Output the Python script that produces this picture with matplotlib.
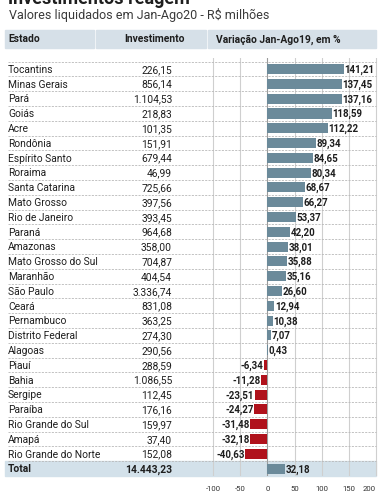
import matplotlib
matplotlib.use('Agg')
import matplotlib.pyplot as plt
import matplotlib.transforms as mtransforms
from matplotlib.patches import Rectangle
from matplotlib.lines import Line2D

plt.rcParams['font.family'] = ['Roboto', 'DejaVu Sans']

estados = ['Tocantins', 'Minas Gerais', 'Pará', 'Goiás', 'Acre', 'Rondônia',
           'Espírito Santo', 'Roraima', 'Santa Catarina', 'Mato Grosso',
           'Rio de Janeiro', 'Paraná', 'Amazonas', 'Mato Grosso do Sul',
           'Maranhão', 'São Paulo', 'Ceará', 'Pernambuco', 'Distrito Federal',
           'Alagoas', 'Piauí', 'Bahia', 'Sergipe', 'Paraíba',
           'Rio Grande do Sul', 'Amapá', 'Rio Grande do Norte']
investimento = [226.15, 856.14, 1104.53, 218.83, 101.35, 151.91, 679.44, 46.99,
                725.66, 397.56, 393.45, 964.68, 358.00, 704.87, 404.54, 3336.74,
                831.08, 363.25, 274.30, 290.56, 288.59, 1086.55, 112.45, 176.16,
                159.97, 37.40, 152.08]
variacao = [141.21, 137.45, 137.16, 118.59, 112.22, 89.34, 84.65, 80.34, 68.67,
            66.27, 53.37, 42.20, 38.01, 35.88, 35.16, 26.60, 12.94, 10.38, 7.07,
            0.43, -6.34, -11.28, -23.51, -24.27, -31.48, -32.18, -40.63]
total_invest = 14443.23
total_var = 32.18
xticks = [-100, -50, 0, 50, 100, 150, 200]

W, H = 384, 496
AZUL = '#6b8a9a'
VERM = '#b0121c'
TXT = '#1e1e1e'


def br(v):
    s = f'{v:,.2f}'
    return s.replace(',', 'X').replace('.', ',').replace('X', '.')


def fx(x):
    return x / W


def fy(y):
    return 1 - y / H


fig = plt.figure(figsize=(W / 100, H / 100), dpi=100)
fig.patch.set_facecolor('white')

# titulo (cortado no topo) e subtitulo
fig.text(fx(8), fy(3.5), 'Investimentos reagem', fontsize=13, fontweight='bold',
         color=TXT, va='baseline', ha='left')
fig.text(fx(9), fy(15.5), 'Valores liquidados em Jan-Ago20 - R$ milhões',
         fontsize=9, color='#3a3a3a', va='center', ha='left')

# cabecalho
for x0, x1 in [(5, 94), (96, 206), (208, 376)]:
    fig.patches.append(Rectangle((fx(x0), fy(48)), fx(x1) - fx(x0), fy(30) - fy(48),
                                 transform=fig.transFigure, color='#d6e0e8', zorder=0))
fig.text(fx(8), fy(39.5), 'Estado', fontsize=7.4, fontweight='bold', color=TXT, va='center')
fig.text(fx(185), fy(39.5), 'Investimento', fontsize=7.4, fontweight='bold', color=TXT,
         va='center', ha='right')
fig.text(fx(216), fy(39.5), 'Variação Jan-Ago19, em %', fontsize=7.4, fontweight='bold',
         color=TXT, va='center')

# area do grafico
ax = fig.add_axes([fx(205), fy(476), fx(378) - fx(205), fy(58) - fy(476)])
ax.set_xlim(-114.8, 203.7)
n = len(estados)
ax.set_ylim(n + 0.5, -0.75)
ax.set_facecolor('none')
for s in ax.spines.values():
    s.set_visible(False)
ax.tick_params(left=False, bottom=False, labelleft=False, labelsize=5.6,
               labelcolor='#333333', pad=4)
ax.set_xticks(xticks)
ax.set_xticklabels([str(t) for t in xticks])
ax.get_xticklabels()[-1].set_horizontalalignment('right')
ax.set_yticks([])
for t in xticks:
    ax.axvline(t, color='#9a9a9a' if t == 0 else '#cfcfcf', lw=0.8, zorder=1)

tr = mtransforms.blended_transform_factory(fig.transFigure, ax.transData)

# faixa do total
ax.add_patch(Rectangle((fx(5), n - 0.52), fx(376) - fx(5), 1.05, transform=tr,
                       color='#d3e1ea', zorder=0.5, clip_on=False))

ys = list(range(n))
cores = [AZUL if v >= 0 else VERM for v in variacao]
ax.barh(ys, variacao, height=0.68, color=cores, zorder=2)
ax.barh([n], [total_var], height=0.68, color=AZUL, zorder=2)

for y, v in zip(ys + [n], variacao + [total_var]):
    if v >= 0:
        ax.text(v + 0.8, y + 0.05, br(v), fontsize=7, fontweight='bold', color=TXT,
                va='center', ha='left', zorder=3)
    else:
        ax.text(v - 0.8, y + 0.05, br(v), fontsize=7, fontweight='bold', color=TXT,
                va='center', ha='right', zorder=3)

# linhas tracejadas das linhas da tabela
for i in range(-1, n):
    ax.add_line(Line2D([fx(8), fx(376)], [i + 0.5, i + 0.5], transform=tr,
                       color='#b8b8b8', lw=0.6, ls=(0, (2.5, 1.5)), zorder=2.5,
                       clip_on=False))

# texto da tabela
for y, est, inv in zip(ys, estados, investimento):
    ax.text(fx(8), y + 0.05, est, transform=tr, fontsize=7.4, color=TXT, va='center',
            ha='left', clip_on=False)
    ax.text(fx(172), y + 0.05, br(inv), transform=tr, fontsize=7.4, color=TXT,
            va='center', ha='right', clip_on=False)
ax.text(fx(8), n + 0.05, 'Total', transform=tr, fontsize=7.4, fontweight='bold',
        color=TXT, va='center', ha='left', clip_on=False)
ax.text(fx(172), n + 0.05, br(total_invest), transform=tr, fontsize=7.4,
        fontweight='bold', color=TXT, va='center', ha='right', clip_on=False)

fig.savefig('out.png', dpi=100)
